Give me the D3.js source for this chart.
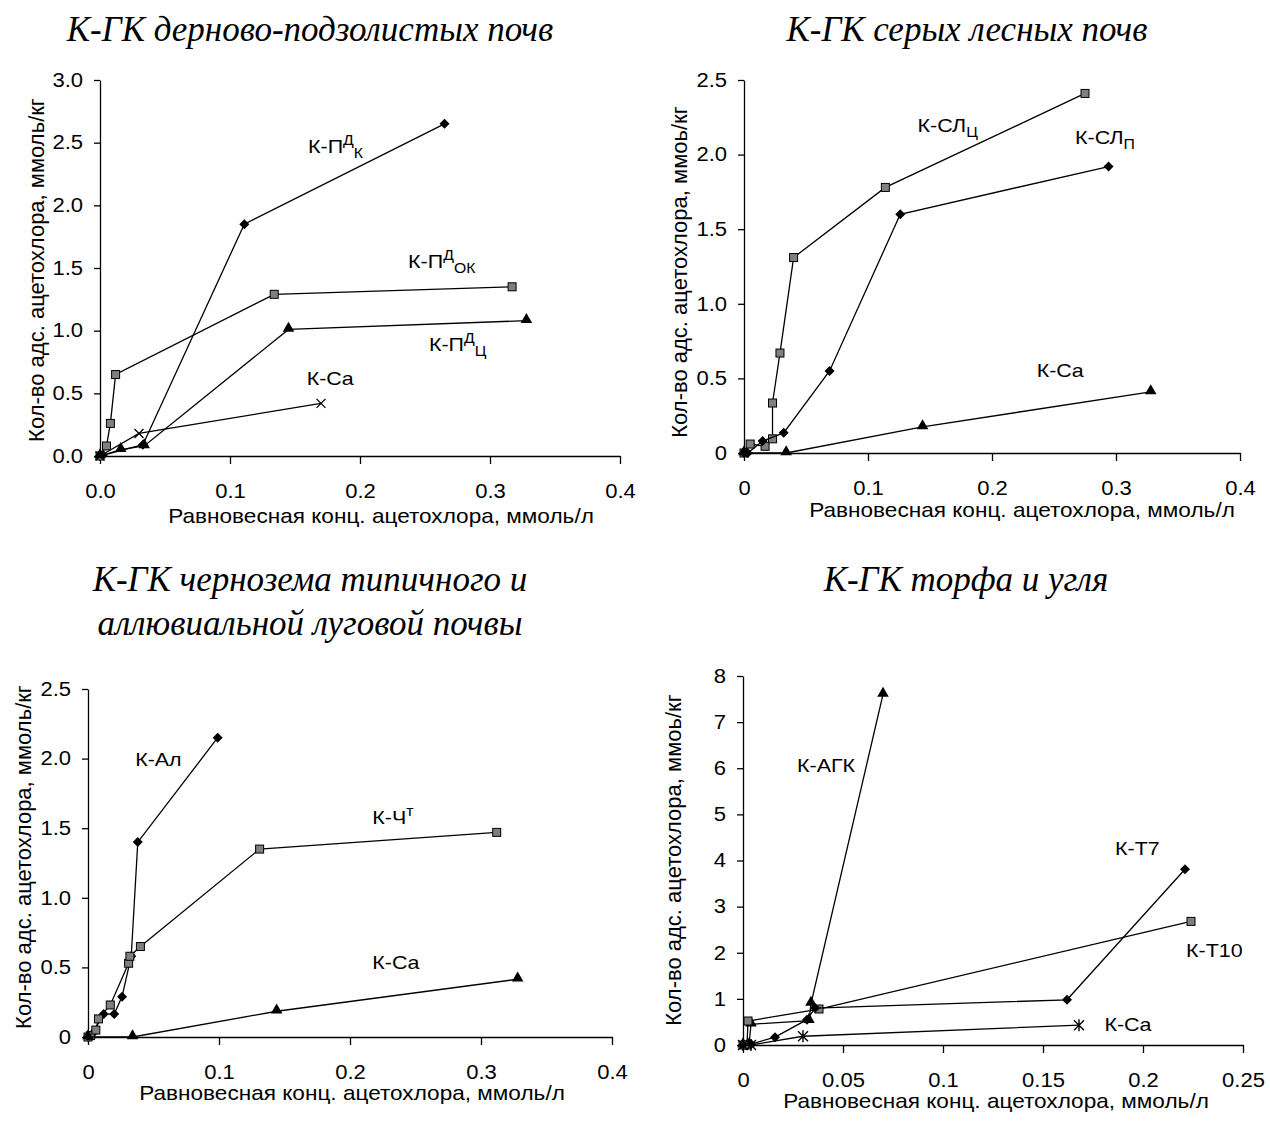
<!DOCTYPE html>
<html>
<head>
<meta charset="utf-8">
<script src="https://cdn.jsdelivr.net/npm/d3@7"></script>
<style>
  body { margin: 0; background: #fff; }
  text { font-family: Arial, "Liberation Sans", sans-serif; fill: #000; }
  .title { font-family: "Times New Roman", "Liberation Serif", serif; font-style: italic; font-size: 35px; }
</style>
</head>
<body>
<div id="chart"></div>
<script>
// ---- Panel 1: дерново-подзолистые почвы
var p1PdkX = [0, 0.002, 0.033, 0.111, 0.265];
var p1PdkY = [0, 0.005, 0.09, 1.85, 2.65];
var p1PdokX = [0, 0.005, 0.008, 0.012, 0.134, 0.317];
var p1PdokY = [0, 0.08, 0.26, 0.65, 1.29, 1.35];
var p1PdcX = [0, 0.016, 0.034, 0.145, 0.328];
var p1PdcY = [0, 0.05, 0.08, 1.01, 1.08];
var p1CaX = [0, 0.030, 0.170];
var p1CaY = [0, 0.18, 0.42];
var p1XTicks = [0, 0.1, 0.2, 0.3, 0.4];
var p1XLabels = ["0.0", "0.1", "0.2", "0.3", "0.4"];
var p1YTicks = [0, 0.5, 1, 1.5, 2, 2.5, 3];
var p1YLabels = ["0.0", "0.5", "1.0", "1.5", "2.0", "2.5", "3.0"];

// ---- Panel 2: серые лесные почвы
var p2SlcX = [0, 0.005, 0.017, 0.023, 0.023, 0.029, 0.040, 0.114, 0.275];
var p2SlcY = [0, 0.06, 0.045, 0.095, 0.335, 0.67, 1.31, 1.78, 2.41];
var p2SlpX = [0, 0.003, 0.015, 0.032, 0.069, 0.126, 0.294];
var p2SlpY = [0, 0.0, 0.08, 0.135, 0.55, 1.60, 1.92];
var p2CaX = [0, 0.034, 0.144, 0.328];
var p2CaY = [0, 0, 0.175, 0.41];
var p2XTicks = [0, 0.1, 0.2, 0.3, 0.4];
var p2XLabels = ["0", "0.1", "0.2", "0.3", "0.4"];
var p2YTicks = [0, 0.5, 1, 1.5, 2, 2.5];
var p2YLabels = ["0", "0.5", "1.0", "1.5", "2.0", "2.5"];

// ---- Panel 3: чернозем и аллювиальная луговая почва
var p3AlX = [0, 0.003, 0.012, 0.020, 0.026, 0.033, 0.038, 0.099];
var p3AlY = [0, 0.02, 0.165, 0.165, 0.29, 0.58, 1.40, 2.15];
var p3ChX = [0, 0.002, 0.006, 0.008, 0.017, 0.031, 0.032, 0.040, 0.131, 0.312];
var p3ChY = [0, 0.01, 0.05, 0.13, 0.23, 0.53, 0.58, 0.65, 1.35, 1.47];
var p3CaX = [0, 0.034, 0.144, 0.328];
var p3CaY = [0, 0, 0.185, 0.415];
var p3XTicks = [0, 0.1, 0.2, 0.3, 0.4];
var p3XLabels = ["0", "0.1", "0.2", "0.3", "0.4"];
var p3YTicks = [0, 0.5, 1, 1.5, 2, 2.5];
var p3YLabels = ["0", "0.5", "1.0", "1.5", "2.0", "2.5"];

// ---- Panel 4: торф и уголь
var p4AgkX = [0, 0.003, 0.004, 0.033, 0.034, 0.070];
var p4AgkY = [0, 0, 0.45, 0.53, 0.90, 7.6];
var p4T10X = [0, 0.002, 0.0025, 0.038, 0.224];
var p4T10Y = [0, 0, 0.52, 0.78, 2.68];
var p4T7X = [0, 0.004, 0.016, 0.032, 0.036, 0.162, 0.221];
var p4T7Y = [0, 0.02, 0.17, 0.55, 0.80, 0.98, 3.81];
var p4CaX = [0, 0.004, 0.030, 0.168];
var p4CaY = [0, 0, 0.19, 0.43];
var p4XTicks = [0, 0.05, 0.1, 0.15, 0.2, 0.25];
var p4XLabels = ["0", "0.05", "0.1", "0.15", "0.2", "0.25"];
var p4YTicks = [0, 1, 2, 3, 4, 5, 6, 7, 8];
var p4YLabels = ["0", "1", "2", "3", "4", "5", "6", "7", "8"];

var xTitle = "Равновесная конц. ацетохлора, ммоль/л";

var width = 1270;
var height = 1124;
// text in the source picture is a little wider than normal Arial
var stretch = 1.13;

var svg = d3.select("#chart")
    .append("svg")
    .attr("width", width)
    .attr("height", height);

// marker drawers
function drawMarker(g, kind, px, py) {
    var s;
    if (kind == "diamond") {
        s = 5;
        g.append("path")
            .attr("d", "M" + px + "," + (py - s) + "L" + (px + s) + "," + py + "L" + px + "," + (py + s) + "L" + (px - s) + "," + py + "Z")
            .attr("fill", "#000");
    } else if (kind == "square") {
        s = 4;
        g.append("rect")
            .attr("x", px - s).attr("y", py - s)
            .attr("width", 2 * s).attr("height", 2 * s)
            .attr("fill", "#7f7f7f")
            .attr("stroke", "#000")
            .attr("stroke-width", 1);
    } else if (kind == "triangle") {
        g.append("path")
            .attr("d", d3.symbol(d3.symbolTriangle, 58)())
            .attr("transform", "translate(" + px + "," + (py - 1) + ")")
            .attr("fill", "#000");
    } else if (kind == "cross") {
        s = 4.5;
        g.append("path")
            .attr("d", "M" + (px - s) + "," + (py - s) + "L" + (px + s) + "," + (py + s) + "M" + (px - s) + "," + (py + s) + "L" + (px + s) + "," + (py - s))
            .attr("stroke", "#000").attr("stroke-width", 1.3);
    } else if (kind == "star") {
        s = 5;
        g.append("path")
            .attr("d", "M" + (px - s) + "," + (py - s) + "L" + (px + s) + "," + (py + s) + "M" + (px - s) + "," + (py + s) + "L" + (px + s) + "," + (py - s) +
                "M" + px + "," + (py - s - 1) + "L" + px + "," + (py + s + 1))
            .attr("stroke", "#000").attr("stroke-width", 1.4);
    }
}

// text placed at (px,py) and widened a bit
function wideText(parent, px, py, size) {
    return parent.append("text")
        .attr("transform", "translate(" + px + "," + py + ") scale(" + stretch + ",1)")
        .style("font-size", size + "px");
}

var panels = [
    {
        title: ["К-ГК дерново-подзолистых почв"], titleX: 310, titleY: 41,
        left: 100, right: 620, top: 80, bottom: 456,
        xDomain: [0, 0.4], yDomain: [0, 3],
        xTicks: p1XTicks, xLabels: p1XLabels, yTicks: p1YTicks, yLabels: p1YLabels,
        yTitle: "Кол-во адс. ацетохлора, ммоль/кг", yTitleX: 36, yTitleY: 270,
        xTitleX: 381, xTitleY: 523,
        series: [
            { x: p1PdkX, y: p1PdkY, m: "diamond" },
            { x: p1PdokX, y: p1PdokY, m: "square" },
            { x: p1PdcX, y: p1PdcY, m: "triangle" },
            { x: p1CaX, y: p1CaY, m: "cross" }
        ],
        labels: [
            { x: 0.160, y: 2.42, parts: [["К-П"], ["Д", "sup"], ["К", "sub"]] },
            { x: 0.237, y: 1.50, parts: [["К-П"], ["Д", "sup"], ["ОК", "sub"]] },
            { x: 0.253, y: 0.84, parts: [["К-П"], ["Д", "sup"], ["Ц", "sub"]] },
            { x: 0.159, y: 0.57, parts: [["К-Ca"]] }
        ]
    },
    {
        title: ["К-ГК серых лесных почв"], titleX: 967, titleY: 41,
        left: 744, right: 1240, top: 80, bottom: 453,
        xDomain: [0, 0.4], yDomain: [0, 2.5],
        xTicks: p2XTicks, xLabels: p2XLabels, yTicks: p2YTicks, yLabels: p2YLabels,
        yTitle: "Кол-во адс. ацетохлора, ммоь/кг", yTitleX: 679, yTitleY: 272,
        xTitleX: 1022, xTitleY: 517,
        series: [
            { x: p2SlcX, y: p2SlcY, m: "square" },
            { x: p2SlpX, y: p2SlpY, m: "diamond" },
            { x: p2CaX, y: p2CaY, m: "triangle" }
        ],
        labels: [
            { x: 0.140, y: 2.15, parts: [["К-СЛ"], ["Ц", "sub"]] },
            { x: 0.267, y: 2.07, parts: [["К-СЛ"], ["П", "sub"]] },
            { x: 0.236, y: 0.51, parts: [["К-Ca"]] }
        ]
    },
    {
        title: ["К-ГК чернозема типичного и", "аллювиальной луговой почвы"], titleX: 310, titleY: 591,
        left: 88, right: 612, top: 689, bottom: 1037,
        xDomain: [0, 0.4], yDomain: [0, 2.5],
        xTicks: p3XTicks, xLabels: p3XLabels, yTicks: p3YTicks, yLabels: p3YLabels,
        yTitle: "Кол-во адс. ацетохлора, ммоль/кг", yTitleX: 23, yTitleY: 857,
        xTitleX: 352, xTitleY: 1100,
        series: [
            { x: p3AlX, y: p3AlY, m: "diamond" },
            { x: p3ChX, y: p3ChY, m: "square" },
            { x: p3CaX, y: p3CaY, m: "triangle" }
        ],
        labels: [
            { x: 0.036, y: 1.95, parts: [["К-Ал"]] },
            { x: 0.217, y: 1.53, parts: [["К-Ч"], ["т", "sup"]] },
            { x: 0.217, y: 0.49, parts: [["К-Ca"]] }
        ]
    },
    {
        title: ["К-ГК торфа и угля"], titleX: 966, titleY: 591,
        left: 743, right: 1243, top: 676, bottom: 1045,
        xDomain: [0, 0.25], yDomain: [0, 8],
        xTicks: p4XTicks, xLabels: p4XLabels, yTicks: p4YTicks, yLabels: p4YLabels,
        yTitle: "Кол-во адс. ацетохлора, ммоь/кг", yTitleX: 673, yTitleY: 860,
        xTitleX: 996, xTitleY: 1108,
        series: [
            { x: p4AgkX, y: p4AgkY, m: "triangle" },
            { x: p4T10X, y: p4T10Y, m: "square" },
            { x: p4T7X, y: p4T7Y, m: "diamond" },
            { x: p4CaX, y: p4CaY, m: "star" }
        ],
        labels: [
            { x: 0.027, y: 5.92, parts: [["К-АГК"]] },
            { x: 0.186, y: 4.11, parts: [["К-Т7"]] },
            { x: 0.2215, y: 1.90, parts: [["К-Т10"]] },
            { x: 0.1807, y: 0.31, parts: [["К-Ca"]] }
        ]
    }
];

panels.forEach(function(p) {
    var g = svg.append("g");

    var x = d3.scaleLinear().domain(p.xDomain).range([p.left, p.right]);
    var y = d3.scaleLinear().domain(p.yDomain).range([p.bottom, p.top]);

    // Title
    p.title.forEach(function(t, i) {
        g.append("text")
            .attr("class", "title")
            .attr("x", p.titleX)
            .attr("y", p.titleY + i * 44)
            .attr("text-anchor", "middle")
            .text(t);
    });

    // Axes
    var xAxis = d3.axisBottom(x)
        .tickValues(p.xTicks)
        .tickFormat(function(d, i) { return p.xLabels[i]; })
        .tickSize(8)
        .tickSizeOuter(0)
        .tickPadding(20);
    var yAxis = d3.axisLeft(y)
        .tickValues(p.yTicks)
        .tickFormat(function(d, i) { return p.yLabels[i]; })
        .tickSize(6)
        .tickSizeOuter(0)
        .tickPadding(9);

    var gx = g.append("g")
        .attr("transform", "translate(0," + p.bottom + ")")
        .call(xAxis);
    var gy = g.append("g")
        .attr("transform", "translate(" + p.left + ",0)")
        .call(yAxis);

    [gx, gy].forEach(function(a) {
        a.selectAll("path, line").attr("stroke", "#000").attr("stroke-width", 1.3);
        a.selectAll("text")
            .style("font-family", "Arial, 'Liberation Sans', sans-serif")
            .style("font-size", "19.5px")
            .attr("fill", "#000")
            .attr("transform", "scale(" + stretch + ",1)");
    });

    // Axis titles
    wideText(g, p.xTitleX, p.xTitleY, 20)
        .attr("text-anchor", "middle")
        .text(xTitle);

    g.append("text")
        .attr("transform", "translate(" + p.yTitleX + "," + p.yTitleY + ") rotate(-90)")
        .attr("text-anchor", "middle")
        .attr("dy", "0.35em")
        .style("font-size", "22px")
        .text(p.yTitle);

    // Series lines and markers
    var line = d3.line()
        .x(function(d) { return x(d[0]); })
        .y(function(d) { return y(d[1]); });

    p.series.forEach(function(s) {
        var pts = d3.zip(s.x, s.y);
        g.append("path")
            .datum(pts)
            .attr("d", line)
            .attr("fill", "none")
            .attr("stroke", "#000")
            .attr("stroke-width", 1.3);
        var mg = g.append("g");
        pts.forEach(function(d) {
            drawMarker(mg, s.m, x(d[0]), y(d[1]));
        });
    });

    // Series labels with sub/superscripts
    p.labels.forEach(function(l) {
        var t = wideText(g, x(l.x), y(l.y), 19);
        var shift = 0;
        l.parts.forEach(function(part) {
            var ts = t.append("tspan").text(part[0]);
            var target = 0;
            if (part[1] == "sup") {
                target = -8;
                ts.style("font-size", "14px");
            } else if (part[1] == "sub") {
                target = 5;
                ts.style("font-size", "14px");
            }
            ts.attr("dy", target - shift);
            shift = target;
        });
    });
});
</script>
</body>
</html>
